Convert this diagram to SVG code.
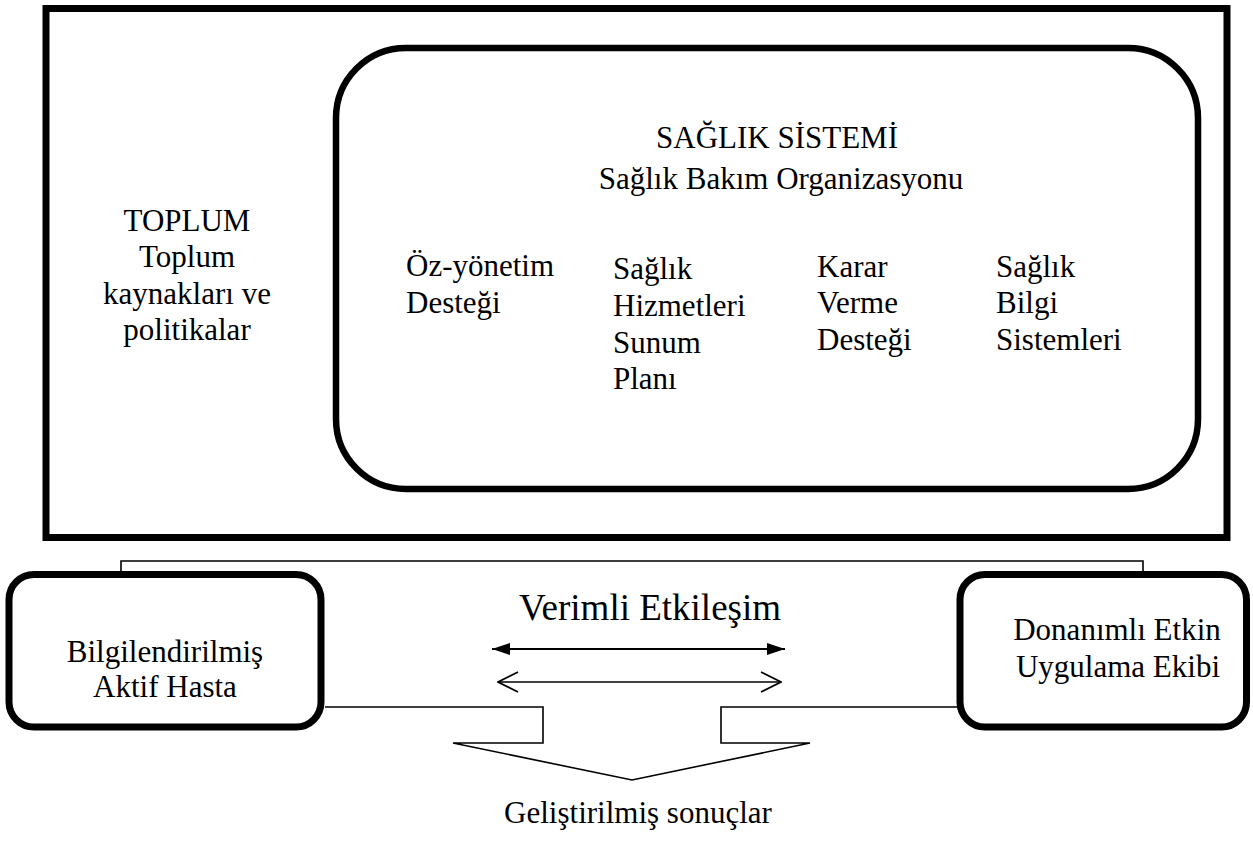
<svg xmlns="http://www.w3.org/2000/svg" width="1253" height="850" viewBox="0 0 1253 850" font-family="'Liberation Serif', 'Times New Roman', Times, 'DejaVu Serif', serif">
<style>
text{font-family:'Liberation Serif','Times New Roman',Times,'DejaVu Serif',serif;font-size:31px;fill:#000}
.box{fill:none;stroke:#000}
.ln{fill:none;stroke:#000;stroke-width:1.6}
.c{text-anchor:middle}
</style>
<defs>
<marker id="fh" viewBox="0 0 18 12" refX="18" refY="6" markerWidth="18" markerHeight="12" markerUnits="userSpaceOnUse" orient="auto-start-reverse">
<path d="M0,0 L18,6 L0,12 Z" fill="#000"/>
</marker>
<marker id="oh" viewBox="0 0 22 24" refX="21" refY="12" markerWidth="22" markerHeight="24" markerUnits="userSpaceOnUse" orient="auto-start-reverse">
<path d="M1,2 L21,12 L1,22" fill="none" stroke="#000" stroke-width="1.6"/>
</marker>
</defs>
<rect width="1253" height="850" fill="#fff"/>
<g id="toplum">
<rect class="box" x="46" y="8.5" width="1181" height="529" stroke-width="7"/>
<text class="c" x="187" y="231">TOPLUM</text>
<text class="c" x="187" y="267">Toplum</text>
<text class="c" x="187" y="304">kaynakları ve</text>
<text class="c" x="187" y="340">politikalar</text>
</g>
<g id="saglik-sistemi">
<rect class="box" x="336" y="48" width="862" height="441" rx="70" ry="70" stroke-width="6.5"/>
<text class="c" x="777" y="148">SAĞLIK SİSTEMİ</text>
<text class="c" x="781" y="189">Sağlık Bakım Organizasyonu</text>
<text x="406" y="276">Öz-yönetim</text>
<text x="406" y="313">Desteği</text>
<text x="613" y="279">Sağlık</text>
<text x="613" y="316">Hizmetleri</text>
<text x="613" y="353">Sunum</text>
<text x="613" y="389">Planı</text>
<text x="817" y="277">Karar</text>
<text x="817" y="313">Verme</text>
<text x="817" y="350">Desteği</text>
<text x="996" y="277">Sağlık</text>
<text x="996" y="313">Bilgi</text>
<text x="996" y="350">Sistemleri</text>
</g>
<g id="connectors">
<path class="ln" d="M121,571 V561 H1143 V571"/>
<path class="ln" d="M325,707 H543 V743 H453 L632,780 L810,743 H721 V707 H957"/>
<line x1="492" y1="649" x2="785" y2="649" stroke="#000" stroke-width="2" marker-start="url(#fh)" marker-end="url(#fh)"/>
<line x1="498" y1="682" x2="781" y2="682" stroke="#000" stroke-width="1.6" marker-start="url(#oh)" marker-end="url(#oh)"/>
<text class="c" x="650" y="620" style="font-size:37px">Verimli Etkileşim</text>
<text class="c" x="638" y="823">Geliştirilmiş sonuçlar</text>
</g>
<g id="hasta">
<rect class="box" x="9" y="574.5" width="312" height="152.5" rx="25" ry="25" stroke-width="7"/>
<text class="c" x="165" y="662">Bilgilendirilmiş</text>
<text class="c" x="165" y="697">Aktif Hasta</text>
</g>
<g id="ekip">
<rect class="box" x="960" y="574.5" width="286.5" height="152.5" rx="25" ry="25" stroke-width="7"/>
<text class="c" x="1117" y="640">Donanımlı Etkin</text>
<text class="c" x="1118" y="677">Uygulama Ekibi</text>
</g>
</svg>
